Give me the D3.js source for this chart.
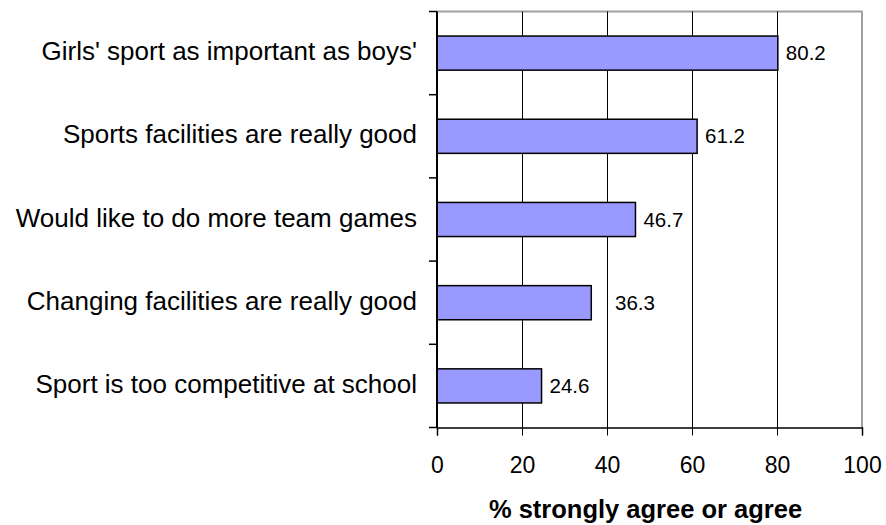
<!DOCTYPE html>
<html>
<head>
  <meta charset="utf-8">
  <script src="https://d3js.org/d3.v7.min.js"></script>
  <style>
    body { margin: 0; background: #fff; }
    svg text { font-family: "Liberation Sans", Arial, sans-serif; fill: #000; }
  </style>
</head>
<body>
  <div id="chart"></div>
  <script>
    var categories = [
      "Girls' sport as important as boys'",
      "Sports facilities are really good",
      "Would like to do more team games",
      "Changing facilities are really good",
      "Sport is too competitive at school"
    ];
    var values = [80.2, 61.2, 46.7, 36.3, 24.6];
    var xTicks = [0, 20, 40, 60, 80, 100];
    var xTitle = "% strongly agree or agree";

    var W = 886, H = 525;
    var plotL = 437, plotR = 862, plotT = 11.5, plotB = 427.5;

    var svg = d3.select("#chart").append("svg")
      .attr("width", W).attr("height", H);

    var x = d3.scaleLinear().domain([0, 100]).range([plotL, plotR]);
    var y = d3.scaleBand().domain(categories).range([plotT, plotB]).paddingInner(0.59).paddingOuter(0.295);

    // plot border (top + right, grey)
    svg.append("path")
      .attr("d", "M" + plotL + "," + plotT + "H" + plotR + "V" + plotB)
      .attr("fill", "none").attr("stroke", "#a0a0a0").attr("stroke-width", 2);

    var grid = xTicks.filter(function(d) { return d > 0 && d < 100; });

    // gridlines
    svg.selectAll("line.grid")
      .data(grid)
      .enter().append("line")
      .attr("class", "grid")
      .attr("x1", function(d) { return Math.round(x(d)) + 0.5; })
      .attr("x2", function(d) { return Math.round(x(d)) + 0.5; })
      .attr("y1", plotT).attr("y2", plotB)
      .attr("stroke", "#000").attr("stroke-width", 1);

    // bars
    svg.selectAll("rect.bar")
      .data(values)
      .enter().append("rect")
      .attr("class", "bar")
      .attr("x", x(0))
      .attr("y", function(d, i) { return y(categories[i]); })
      .attr("width", function(d) { return x(d) - x(0); })
      .attr("height", y.bandwidth())
      .attr("fill", "#9999ff")
      .attr("stroke", "#000").attr("stroke-width", 1.5);

    // value labels (pushed past a gridline when they would sit on it)
    var labelW = 42;
    svg.selectAll("text.val")
      .data(values)
      .enter().append("text")
      .attr("class", "val")
      .attr("x", function(d) {
        var lx = x(d) + 8;
        grid.forEach(function(g) {
          if (x(g) > lx - 2 && x(g) < lx + labelW) lx = x(g) + 8;
        });
        return lx;
      })
      .attr("y", function(d, i) { return y(categories[i]) + y.bandwidth() / 2; })
      .attr("dy", "0.35em")
      .style("font-size", "20.5px")
      .text(function(d) { return d.toFixed(1); });

    // x axis
    var xAxis = svg.append("g")
      .attr("transform", "translate(0," + plotB + ")")
      .call(d3.axisBottom(x).tickValues(xTicks).tickSize(8).tickPadding(21));
    xAxis.select(".domain").attr("stroke", "#000").attr("stroke-width", 1.5);
    xAxis.selectAll(".tick line").attr("stroke", "#000");
    xAxis.attr("font-family", null).attr("font-size", null);
    xAxis.selectAll("text").style("font-size", "23px");

    // y axis with ticks at category boundaries
    var yAxis = svg.append("g").attr("transform", "translate(" + plotL + ",0)");
    yAxis.append("line")
      .attr("x1", 0).attr("x2", 0).attr("y1", plotT).attr("y2", plotB)
      .attr("stroke", "#000").attr("stroke-width", 2);
    var step = (plotB - plotT) / categories.length;
    yAxis.selectAll("line.tk")
      .data(d3.range(categories.length + 1))
      .enter().append("line")
      .attr("class", "tk")
      .attr("x1", -8).attr("x2", 0)
      .attr("y1", function(i) { return plotT + i * step; })
      .attr("y2", function(i) { return plotT + i * step; })
      .attr("stroke", "#000").attr("stroke-width", 1.5);
    yAxis.selectAll("text.cat")
      .data(categories)
      .enter().append("text")
      .attr("class", "cat")
      .attr("x", -20)
      .attr("y", function(d) { return y(d) + y.bandwidth() / 2 - 2; })
      .attr("dy", "0.35em")
      .attr("text-anchor", "end")
      .style("font-size", "26px")
      .text(function(d) { return d; });

    // axis title
    svg.append("text")
      .attr("x", 645.5)
      .attr("y", 518)
      .attr("text-anchor", "middle")
      .style("font-size", "25.5px")
      .style("font-weight", "bold")
      .text(xTitle);
  </script>
</body>
</html>
